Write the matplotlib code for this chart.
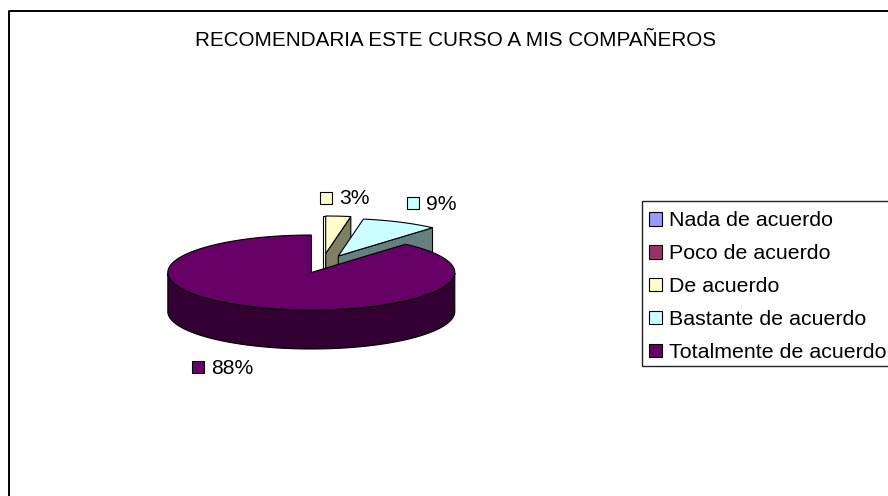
#!/usr/bin/env python
# coding: utf-8
import numpy as np
import matplotlib
matplotlib.use("Agg")
import matplotlib.pyplot as plt
from matplotlib.patches import Patch, Polygon, Rectangle

title = "RECOMENDARIA ESTE CURSO A MIS COMPAÑEROS"
categories = ["Nada de acuerdo", "Poco de acuerdo", "De acuerdo",
              "Bastante de acuerdo", "Totalmente de acuerdo"]
shares = [0, 0, 2.8, 8.6, 88.6]
labels = ["", "", "3%", "9%", "88%"]
colors = ["#9999FF", "#993366", "#FFFFCC", "#CCFFFF", "#660066"]
side_colors = ["#4C4C7F", "#4C1933", "#7F7F66", "#667F7F", "#330033"]

plt.rcParams["font.family"] = ["Liberation Sans", "DejaVu Sans"]
FS = 15.2
LW = 0.8

# pie geometry in picture pixels
CX, CY = 311.3, 272.5
RX, RY = 143.5, 37.5
DEPTH = 39
offsets = {2: (14.4, -19.0), 3: (27.0, -16.5), 4: (0, 0)}
label_pos = {2: (320, 198), 3: (407, 203), 4: (192, 367)}


def top_face(t0, t1, off):
    # angles are clockwise from 12 o'clock, in fractions of the whole pie
    th = 2 * np.pi * np.linspace(t0, t1, 200)
    x = CX + off[0] + RX * np.sin(th)
    y = CY + off[1] - RY * np.cos(th)
    return np.column_stack([x, y])


def plot():
    f = plt.figure(figsize=(8.88, 4.96), dpi=100)
    ax = f.add_axes([0, 0, 1, 1])
    ax.set_xlim(0, 888)
    ax.set_ylim(496, 0)
    ax.axis("off")

    # chart frame, open to the right and bottom
    ax.plot([8.5, 8.5, 888], [496, 10.5, 10.5], color="black", lw=1.4)
    ax.text(455.5, 40, title, ha="center", va="center", fontsize=14.85)

    fractions = np.cumsum([0] + shares) / np.sum(shares)

    # exploded slices first, the big one covers what it overlaps
    for i in [2, 3, 4]:
        t0, t1 = fractions[i], fractions[i + 1]
        off = offsets[i]
        apex = np.array([CX + off[0], CY + off[1]])
        arc = top_face(t0, t1, off)
        if i == 4:
            # outer wall, front half of the ellipse
            front = arc[(arc[:, 1] >= CY)]
            wall = np.vstack([front, (front + [0, DEPTH])[::-1]])
            ax.add_patch(Polygon(wall, fc=side_colors[i], ec="black", lw=LW))
        else:
            if i == 2:
                # thin left wall of the small slice, seen nearly edge on
                edge = np.array([apex, arc[0], arc[0] + [-3, 0],
                                 apex + [-3, DEPTH]])
                ax.add_patch(Polygon(edge, fc="white", ec="black", lw=LW))
            wall = np.vstack([apex, arc[-1], arc[-1] + [0, DEPTH],
                              apex + [0, DEPTH]])
            ax.add_patch(Polygon(wall, fc=side_colors[i], ec="black", lw=LW))
        ax.add_patch(Polygon(np.vstack([apex, arc]), fc=colors[i],
                             ec="black", lw=LW))

    # data labels with their colour key
    for i, (x, y) in label_pos.items():
        ax.add_patch(Rectangle((x, y - 6), 12, 12, fc=colors[i],
                               ec="black", lw=LW))
        ax.text(x + 19, y + 1, labels[i], ha="left", va="center", fontsize=FS)

    # legend frame is drawn apart, it runs off the right edge as in the original
    ax.add_patch(Rectangle((641.5, 200.7), 260, 165.3, fc="white",
                           ec="#222222", lw=1.0))
    handles = [Patch(fc=c, ec="black", lw=LW) for c in colors]
    ax.legend(handles, categories, loc="upper left",
              bbox_to_anchor=(641.5 / 888, 1 - 203.5 / 496), borderaxespad=0,
              fontsize=15.4, frameon=False,
              handlelength=0.6, handleheight=0.6,
              handletextpad=0.3, labelspacing=0.65,
              borderpad=0.37)

    f.savefig("out.png", dpi=100)


plot()
